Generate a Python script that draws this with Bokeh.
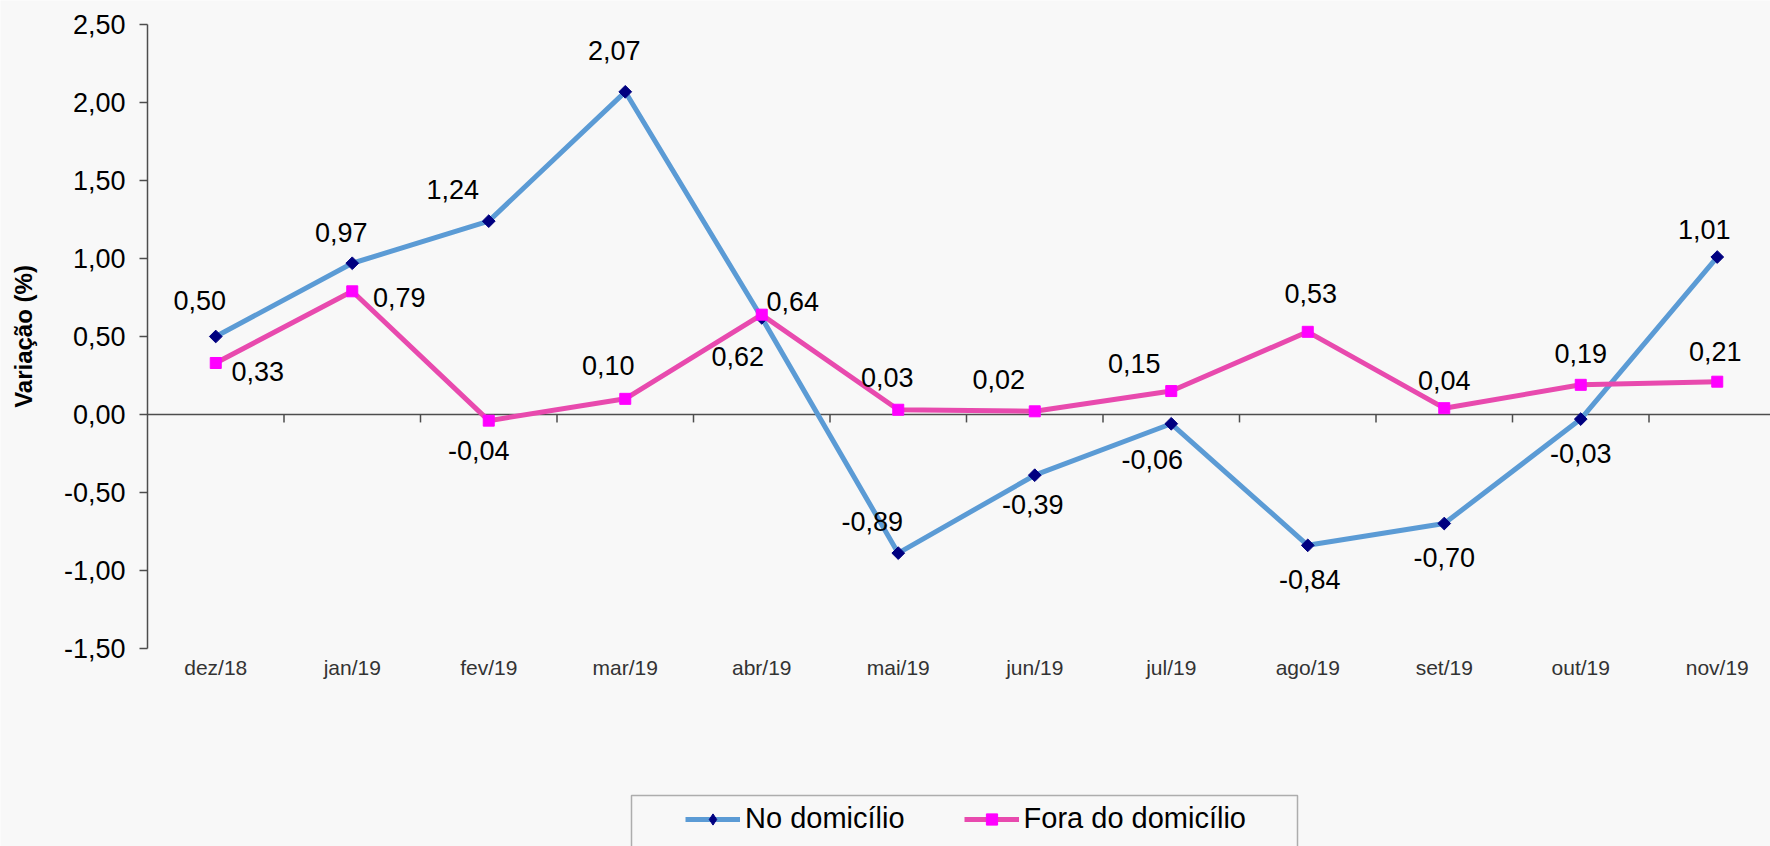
from bokeh.plotting import figure
from bokeh.models import (FixedTicker, Legend, LegendItem, ColumnDataSource,
                          LinearAxis, BoxAnnotation)
from bokeh.embed import file_html
from bokeh.resources import INLINE
from bokeh.core.properties import value
import numpy as np

# ---------------- data ----------------
months = ["dez/18", "jan/19", "fev/19", "mar/19", "abr/19", "mai/19",
          "jun/19", "jul/19", "ago/19", "set/19", "out/19", "nov/19"]
no_domicilio = [0.50, 0.97, 1.24, 2.07, 0.62, -0.89, -0.39, -0.06, -0.84, -0.70, -0.03, 1.01]
fora_domicilio = [0.33, 0.79, -0.04, 0.10, 0.64, 0.03, 0.02, 0.15, 0.53, 0.04, 0.19, 0.21]
series_names = ["No domicílio", "Fora do domicílio"]
y_ticks = [-1.5, -1.0, -0.5, 0.0, 0.5, 1.0, 1.5, 2.0, 2.5]
y_tick_labels = ["-1,50", "-1,00", "-0,50", "0,00", "0,50", "1,00", "1,50", "2,00", "2,50"]
y_title = "Variação (%)"

# ---------------- label placement (pixel offsets, style only) ----------------
blue_dx = [-16, -11, -36, -11, -24, -26, -2, -19, 2, 0, 0, -13]
blue_dy = [-36, -31, -32, -41, 39, -32, 29, 36, 34, 34, 34, -28]
pink_dx = [42, 47, -10, -17, 31, -11, -36, -37, 3, 0, 0, -2]
pink_dy = [9, 6, 30, -33, -13, -32, -32, -28, -38, -28, -31, -30]

# ---------------- geometry / style ----------------
W, H = 1770, 846
PLOT_LEFT, PLOT_TOP, PLOT_BOTTOM = 147.0, 24.3, 647.7   # pixel edges of the plot area
CAT_W = 136.5                                            # pixels per category
Y_MIN, Y_MAX = y_ticks[0], y_ticks[-1]
px_per_unit = (PLOT_BOTTOM - PLOT_TOP) / (Y_MAX - Y_MIN)

FONT = "Liberation Sans"
BG = "#f8f8f8"
AXIS_COLOR = "#4d4d4d"
BLUE_LINE = "#5b9bd5"
BLUE_MARK = "#000080"
PINK_LINE = "#e84aae"
PINK_MARK = "#ff00ff"

x = list(range(len(months)))
x0 = -0.5
x_start = x0 - PLOT_LEFT / CAT_W
x_end = x0 + (W - PLOT_LEFT) / CAT_W
y_end = Y_MAX + PLOT_TOP / px_per_unit
y_start = Y_MAX - (H - PLOT_TOP) / px_per_unit

def fmt(v):
    return f"{v:.2f}".replace(".", ",")

src_b = ColumnDataSource(dict(x=x, y=no_domicilio, t=[fmt(v) for v in no_domicilio],
                              dx=blue_dx, dy=blue_dy))
src_p = ColumnDataSource(dict(x=x, y=fora_domicilio, t=[fmt(v) for v in fora_domicilio],
                              dx=pink_dx, dy=pink_dy))

p = figure(width=W, height=H, output_backend="svg", toolbar_location=None,
           x_range=(x_start, x_end), y_range=(y_start, y_end),
           min_border=0, x_axis_type=None, y_axis_type=None)
p.background_fill_color = BG
p.border_fill_color = BG
p.outline_line_color = None
p.xgrid.visible = False
p.ygrid.visible = False

# y axis, drawn at the left edge of the category area
yax = LinearAxis(ticker=FixedTicker(ticks=y_ticks), fixed_location=x0, bounds=(Y_MIN, Y_MAX),
                 major_label_overrides={t: l for t, l in zip(y_ticks, y_tick_labels)})
yax.axis_line_color = AXIS_COLOR
yax.axis_line_width = 1.5
yax.major_tick_line_color = AXIS_COLOR
yax.major_tick_line_width = 1.5
yax.major_tick_out = 8
yax.major_tick_in = 0
yax.minor_tick_line_color = None
yax.major_label_standoff = 14
yax.major_label_text_font = FONT
yax.major_label_text_font_size = "27px"
yax.major_label_text_color = "#000000"
yax.axis_label = y_title
yax.axis_label_text_font = FONT
yax.axis_label_text_font_style = "bold"
yax.axis_label_text_font_size = "24px"
yax.axis_label_text_color = "#000000"
yax.axis_label_standoff = 24
p.add_layout(yax, "left")

# category axis labels, at the bottom of the plot area
xax = LinearAxis(ticker=FixedTicker(ticks=x), fixed_location=Y_MIN,
                 major_label_overrides={i: m for i, m in zip(x, months)})
xax.axis_line_color = None
xax.major_tick_line_color = None
xax.minor_tick_line_color = None
xax.major_tick_out = 0
xax.major_tick_in = 0
xax.major_label_standoff = 8
xax.major_label_text_font = FONT
xax.major_label_text_font_size = "21px"
xax.major_label_text_color = "#333333"
p.add_layout(xax, "below")

# horizontal axis line at zero with category boundary ticks
bounds = [i + 0.5 for i in x]
tick_len = 8 / px_per_unit
p.segment(x0=[x0], y0=[0], x1=[x_end + 1], y1=[0], line_color=AXIS_COLOR, line_width=1.5)
p.segment(x0=bounds, y0=[0] * len(bounds), x1=bounds, y1=[-tick_len] * len(bounds),
          line_color=AXIS_COLOR, line_width=1.5)

# series
lb = p.line("x", "y", source=src_b, line_color=BLUE_LINE, line_width=5)
# diamond glyph used by the legend (hidden under the plotted markers)
mb_leg = p.scatter("x", "y", source=src_b, marker="diamond", size=2,
                   fill_color=BLUE_MARK, line_color=BLUE_MARK)
mb = p.scatter("x", "y", source=src_b, marker="square", angle=np.pi / 4, size=9,
               fill_color=BLUE_MARK, line_color=BLUE_MARK)
lp = p.line("x", "y", source=src_p, line_color=PINK_LINE, line_width=5)
mp = p.scatter("x", "y", source=src_p, marker="square", size=11,
               fill_color=PINK_MARK, line_color=PINK_MARK)

for src in (src_b, src_p):
    p.text("x", "y", text="t", source=src, x_offset="dx", y_offset="dy",
           text_align="center", text_baseline="middle",
           text_font=value(FONT), text_font_size="27px", text_color="#000000")

# legend
legend = Legend(items=[LegendItem(label=series_names[0], renderers=[lb, mb_leg]),
                       LegendItem(label=series_names[1], renderers=[lp, mp])],
                orientation="horizontal", location=(685, 11))
legend.label_text_font = FONT
legend.label_text_font_size = "29px"
legend.label_text_color = "#000000"
legend.glyph_width = 55
legend.glyph_height = 28
legend.label_standoff = 5
legend.spacing = 59
legend.padding = 10
legend.margin = 0
legend.border_line_color = None
legend.background_fill_alpha = 0
p.add_layout(legend, "center")

# legend frame
p.add_layout(BoxAnnotation(left=631, right=1297, top=795, bottom=900,
                           left_units="canvas", right_units="canvas",
                           top_units="canvas", bottom_units="canvas",
                           fill_color=None, line_color="#000000", line_width=1.5))

html = file_html(p, INLINE)
html = html.replace("<body>", '<body style="background-color:#f8f8f8;">', 1)
open("out.html", "w").write(html)
